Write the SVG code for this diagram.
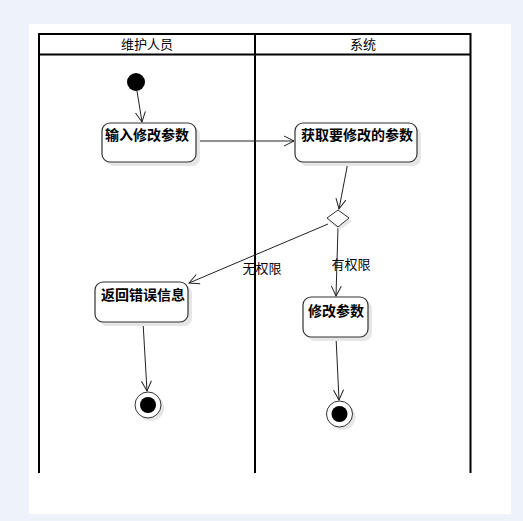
<svg xmlns="http://www.w3.org/2000/svg" width="523" height="521" viewBox="0 0 523 521">
<defs>
<style>
.lane{stroke:#000;stroke-width:2;fill:none}
.act{fill:#fff;stroke:#333;stroke-width:1.2}
.sh{fill:#e6e6e6}
.t{font-family:"Noto Sans CJK SC","Noto Sans",sans-serif;font-size:13px;fill:#000}
.b{font-weight:bold;font-size:14px}
.c{stroke:#222;stroke-width:1;fill:none;marker-end:url(#ah)}
</style>
<marker id="ah" viewBox="0 0 12 12" refX="11" refY="6" markerWidth="12" markerHeight="12" orient="auto" markerUnits="userSpaceOnUse">
<path d="M1,1 L11,6 L1,11" fill="none" stroke="#222" stroke-width="1"/>
</marker>
</defs>
<rect width="523" height="521" fill="#eef2fa"/>
<rect x="29" y="24" width="482" height="490" fill="#fff"/>
<g id="swimlanes">
<path class="lane" d="M39,473 V34 H470.5 V473 M255,34 V473 M39,54.5 H470.5"/>
<text class="t" x="147" y="49" text-anchor="middle">维护人员</text>
<text class="t" x="363" y="49" text-anchor="middle">系统</text>
</g>
<g id="connectors">
<line class="c" x1="137" y1="91" x2="142" y2="122"/>
<line class="c" x1="196" y1="141" x2="294" y2="141"/>
<line class="c" x1="348" y1="162" x2="339" y2="209"/>
<line class="c" x1="328" y1="224" x2="189" y2="283"/>
<line class="c" x1="338" y1="227" x2="336" y2="296"/>
<line class="c" x1="143" y1="322" x2="147" y2="391"/>
<line class="c" x1="336" y1="337" x2="339" y2="400"/>
<text class="t" x="262" y="273" text-anchor="middle">无权限</text>
<text class="t" x="351" y="269" text-anchor="middle">有权限</text>
</g>
<g id="start">
<circle cx="136" cy="82" r="9" fill="#000"/>
</g>
<g id="a1">
<rect class="sh" x="106" y="127" width="94" height="39" rx="8"/>
<rect class="act" x="102" y="123" width="94" height="39" rx="8"/>
<text class="t b" x="105" y="140">输入修改参数</text>
</g>
<g id="a2">
<rect class="sh" x="299" y="127" width="122" height="39" rx="8"/>
<rect class="act" x="295" y="123" width="122" height="39" rx="8"/>
<text class="t b" x="301" y="140">获取要修改的参数</text>
</g>
<g id="decision">
<path class="sh" d="M340,213 L352,221 L340,230 L328,221 Z"/>
<path d="M338,210 L349,218 L338,227 L327,218 Z" fill="#fff" stroke="#333" stroke-width="1"/>
</g>
<g id="a3">
<rect class="sh" x="99" y="286" width="93" height="40" rx="8"/>
<rect class="act" x="95" y="282" width="93" height="40" rx="8"/>
<text class="t b" x="101" y="300">返回错误信息</text>
</g>
<g id="a4">
<rect class="sh" x="307" y="301" width="65" height="40" rx="8"/>
<rect class="act" x="303" y="297" width="65" height="40" rx="8"/>
<text class="t b" x="308" y="316">修改参数</text>
</g>
<g id="end1">
<circle cx="151" cy="408" r="13" fill="#e6e6e6"/>
<circle cx="148" cy="405" r="13" fill="#fff" stroke="#333" stroke-width="1"/>
<circle cx="148" cy="405" r="8" fill="#000"/>
</g>
<g id="end2">
<circle cx="342.5" cy="417" r="13" fill="#e6e6e6"/>
<circle cx="339.5" cy="414" r="13" fill="#fff" stroke="#333" stroke-width="1"/>
<circle cx="339.5" cy="414" r="8" fill="#000"/>
</g>
</svg>
